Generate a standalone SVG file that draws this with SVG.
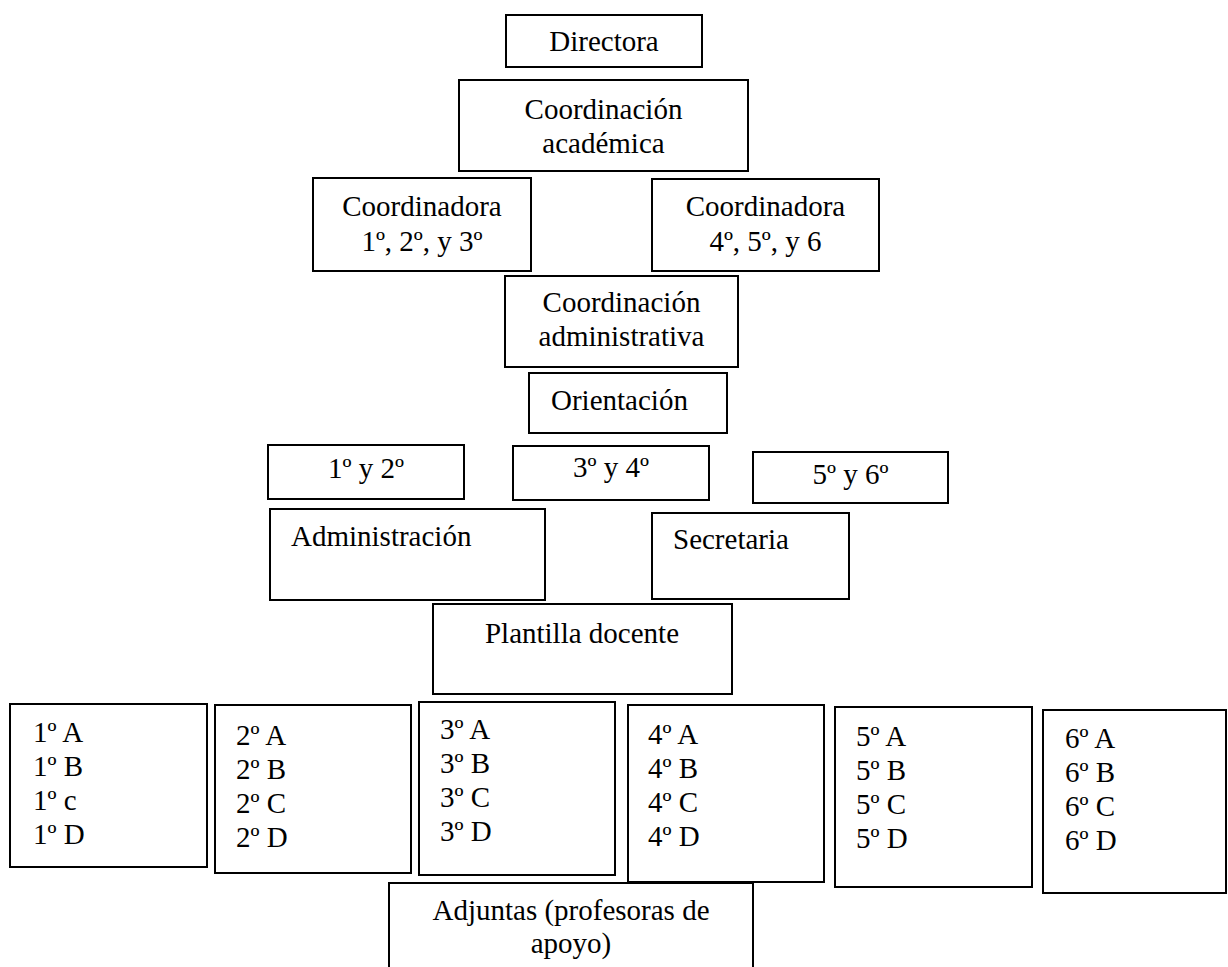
<svg xmlns="http://www.w3.org/2000/svg" width="1228" height="967" viewBox="0 0 1228 967">
<style>
rect{fill:#fff;stroke:#000;stroke-width:2}
text{font-family:'Liberation Serif',serif;font-size:29px;fill:#000}
.c{text-anchor:middle}
</style>
<rect x="0" y="0" width="1228" height="967" style="stroke:none"/>
<g id="connectors"/>
<g font-family="Liberation Serif">
<g id="directora"><rect x="506" y="15" width="196" height="52"/><text class="c" x="604" y="51">Directora</text></g>
<g id="coord-academica"><rect x="459" y="80" width="289" height="91"/><text class="c" x="603.5" y="119">Coordinación</text><text class="c" x="603.5" y="153">académica</text></g>
<g id="coordinadora-123"><rect x="313" y="178" width="218" height="93"/><text class="c" x="422" y="216">Coordinadora</text><text class="c" x="422" y="251">1º, 2º, y 3º</text></g>
<g id="coordinadora-456"><rect x="652" y="179" width="227" height="92"/><text class="c" x="765.5" y="216">Coordinadora</text><text class="c" x="765.5" y="251">4º, 5º, y 6</text></g>
<g id="coord-administrativa"><rect x="505" y="276" width="233" height="91"/><text class="c" x="621.5" y="312">Coordinación</text><text class="c" x="621.5" y="346">administrativa</text></g>
<g id="orientacion"><rect x="529" y="373" width="198" height="60"/><text x="551" y="410">Orientación</text></g>
<g id="g12"><rect x="268" y="445" width="196" height="54"/><text class="c" x="366" y="478">1º y 2º</text></g>
<g id="g34"><rect x="513" y="446" width="196" height="54"/><text class="c" x="611" y="477">3º y 4º</text></g>
<g id="g56"><rect x="753" y="452" width="195" height="51"/><text class="c" x="850.5" y="484">5º y 6º</text></g>
<g id="administracion"><rect x="270" y="509" width="275" height="91"/><text x="291" y="546">Administración</text></g>
<g id="secretaria"><rect x="652" y="513" width="197" height="86"/><text x="673" y="549">Secretaria</text></g>
<g id="plantilla"><rect x="433" y="604" width="299" height="90"/><text class="c" x="582" y="643">Plantilla docente</text></g>
<g id="grado1"><rect x="10" y="704" width="197" height="163"/><text x="33" y="742">1º A</text><text x="33" y="776">1º B</text><text x="33" y="810">1º c</text><text x="33" y="844">1º D</text></g>
<g id="grado2"><rect x="215" y="705" width="196" height="168"/><text x="236" y="745">2º A</text><text x="236" y="779">2º B</text><text x="236" y="813">2º C</text><text x="236" y="847">2º D</text></g>
<g id="grado3"><rect x="419" y="702" width="196" height="173"/><text x="440" y="739">3º A</text><text x="440" y="773">3º B</text><text x="440" y="807">3º C</text><text x="440" y="841">3º D</text></g>
<g id="grado4"><rect x="628" y="705" width="196" height="177"/><text x="648" y="744">4º A</text><text x="648" y="778">4º B</text><text x="648" y="812">4º C</text><text x="648" y="846">4º D</text></g>
<g id="grado5"><rect x="835" y="707" width="197" height="180"/><text x="856" y="746">5º A</text><text x="856" y="780">5º B</text><text x="856" y="814">5º C</text><text x="856" y="848">5º D</text></g>
<g id="grado6"><rect x="1043" y="710" width="183" height="183"/><text x="1065" y="748">6º A</text><text x="1065" y="782">6º B</text><text x="1065" y="816">6º C</text><text x="1065" y="850">6º D</text></g>
<g id="adjuntas"><rect x="389" y="883" width="364" height="100"/><text class="c" x="571" y="920">Adjuntas (profesoras de</text><text class="c" x="571" y="953">apoyo)</text></g>
</g>
</svg>
